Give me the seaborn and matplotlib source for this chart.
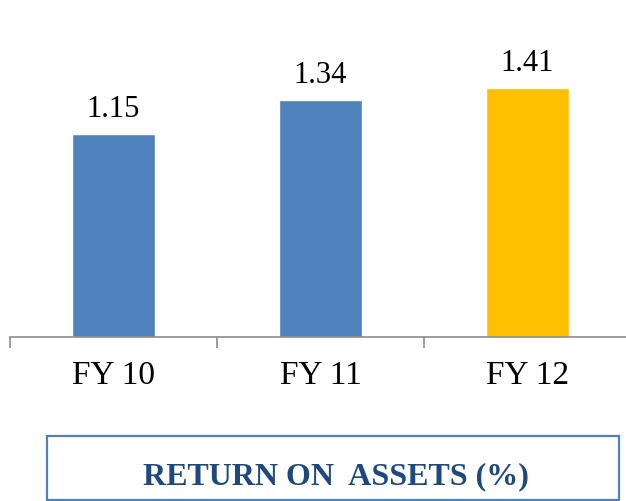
import matplotlib
matplotlib.use("Agg")
import matplotlib.pyplot as plt
from matplotlib.patches import Rectangle
import seaborn as sns
import pandas as pd

# chart data
years = ["FY 10", "FY 11", "FY 12"]
roa = [1.15, 1.34, 1.41]
bar_colors = ["#4F81BD", "#4F81BD", "#FFC000"]
title_text = "RETURN ON  ASSETS (%)"

sns.set_style("white")
plt.rcParams["font.family"] = ["Liberation Serif", "DejaVu Serif"]

df = pd.DataFrame({"year": years, "roa": roa})

fig = plt.figure(figsize=(6.26, 5.02), dpi=100)
ax = fig.add_axes([10 / 626, 164 / 502, 621 / 626, 338 / 502])

sns.barplot(data=df, x="year", y="roa", hue="year", palette=bar_colors,
            width=0.4, legend=False, ax=ax, saturation=1)

ax.set_xlim(-0.5, 2.5)
ax.set_ylim(0, 338 / 176.7)

for i, v in enumerate(roa):
    ax.annotate(f"{v:.2f}", (i, v), xytext=(0, 13), textcoords="offset points",
                ha="center", va="baseline", fontsize=22, color="black")

for s in ["top", "right", "left"]:
    ax.spines[s].set_visible(False)
ax.spines["bottom"].set_color("#8C8C8C")
ax.spines["bottom"].set_linewidth(1.2)

ax.set_yticks([])
ax.set_xticks([-0.5, 0.5, 1.5, 2.5], minor=True)
ax.tick_params(axis="x", which="minor", length=8, width=1.2, color="#8C8C8C",
               direction="out", bottom=True)
ax.tick_params(axis="x", which="major", length=0, pad=16, labelsize=24,
               labelcolor="black")
ax.set_xlabel("")
ax.set_ylabel("")

# boxed title at the bottom
box = Rectangle((47 / 626, 1 / 502), 572 / 626, 64 / 502, transform=fig.transFigure,
                fill=False, edgecolor="#4F81BD", linewidth=1.6)
fig.add_artist(box)
fig.text(336 / 626, 18 / 502, title_text, ha="center", va="baseline",
         fontsize=23, fontweight="bold", color="#1F497D")

fig.savefig("out.png", dpi=100)
